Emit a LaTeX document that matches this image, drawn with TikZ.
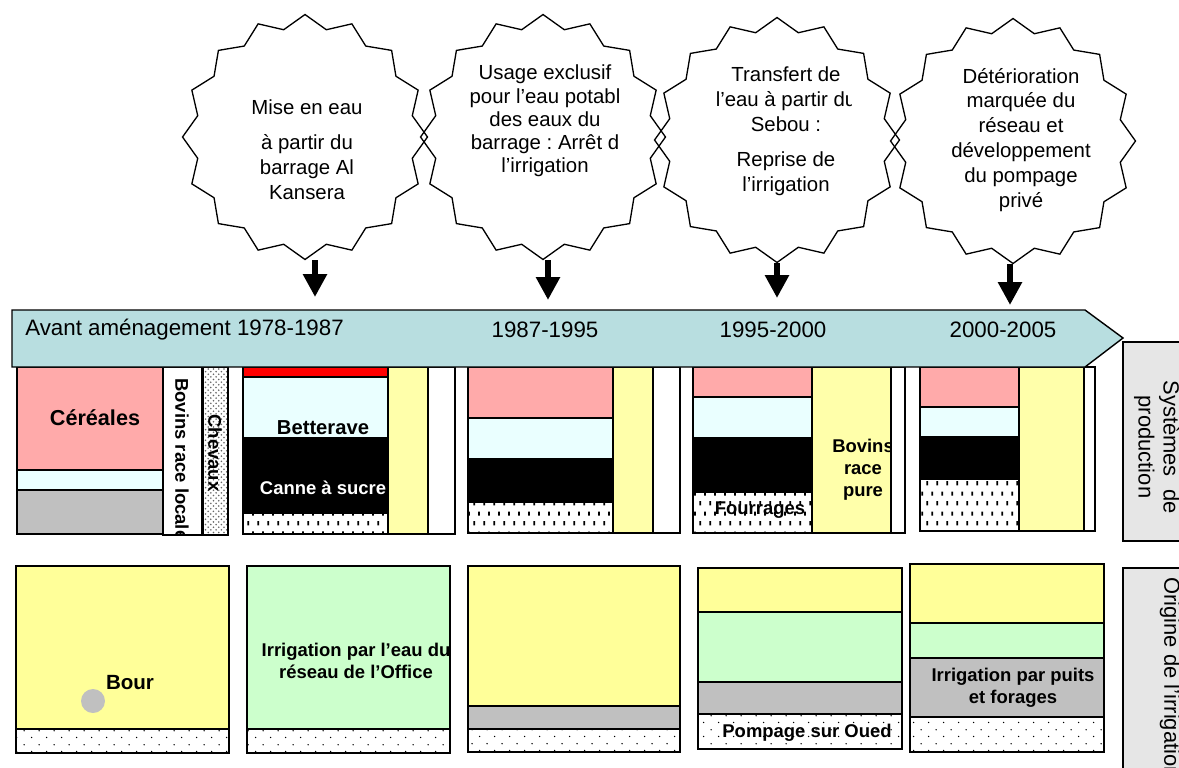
\documentclass[tikz,border=0pt]{standalone}
\usepackage{fontspec}
\setmainfont{Liberation Sans}
\usetikzlibrary{arrows.meta,shapes.geometric,patterns,positioning}
\frenchspacing

\definecolor{cereal}{RGB}{255,170,170}
\definecolor{beet}{RGB}{234,255,255}
\definecolor{fallow}{RGB}{192,192,192}
\definecolor{cattle}{RGB}{255,255,170}
\definecolor{rainfed}{RGB}{255,255,153}
\definecolor{network}{RGB}{204,255,204}
\definecolor{timeline}{RGB}{184,222,224}
\definecolor{legendgray}{RGB}{230,230,230}

\pgfdeclarepatternformonly{fodder}{\pgfpointorigin}{\pgfpoint{5.6pt}{11.4pt}}{\pgfpoint{5.6pt}{11.4pt}}{%
  \pgfpathrectangle{\pgfpoint{0.8pt}{1pt}}{\pgfpoint{1pt}{2.4pt}}%
  \pgfpathrectangle{\pgfpoint{3.6pt}{6.7pt}}{\pgfpoint{1pt}{2.4pt}}%
  \pgfusepath{fill}}
\pgfdeclarepatternformonly{sparsedots}{\pgfpointorigin}{\pgfpoint{8.5pt}{8pt}}{\pgfpoint{8.5pt}{8pt}}{%
  \pgfpathcircle{\pgfpoint{1.5pt}{1.5pt}}{0.45pt}%
  \pgfpathcircle{\pgfpoint{5.75pt}{5.5pt}}{0.45pt}%
  \pgfusepath{fill}}

\begin{document}
\begin{tikzpicture}[x=0.02cm, y=-0.02cm,
    box/.style={draw=black, line width=1pt},
    burst/.style={star, star points=16, star point ratio=1.12, minimum size=4.9cm, inner sep=0pt, draw=black, line width=0.75pt},
    bursttext/.style={align=center, inner sep=0pt, font=\fontsize{11.6}{14.2}\selectfont},
    period/.style={inner sep=0pt, font=\fontsize{12.7}{15}\selectfont},
    croplabel/.style={inner sep=0pt, align=center, font=\fontsize{10.5}{12.5}\selectfont\bfseries},
    sidelabel/.style={inner sep=0pt, align=center, rotate=-90, font=\fontsize{12.5}{14.2}\selectfont},
    blockarrow/.style={line width=0.13cm, -{Triangle[width=0.46cm,length=0.46cm]}},
    fodderfill/.style={preaction={fill=white}, pattern=fodder},
    soilfill/.style={preaction={fill=white}, pattern=sparsedots},
    horsefill/.style={preaction={fill=white}, pattern=crosshatch dots, pattern color=black!60},
  ]
  \useasboundingbox (0,0) rectangle (1179,767);
  \clip (0,0) rectangle (1179,767);

  % Events (explosion shapes)
  \node[burst] (s1) at (305,137) {};
  \node[burst] (s2) at (543,137) {};
  \node[burst] (s3) at (777,140) {};
  \node[burst] (s4) at (1013,141) {};
  \node[bursttext] (e1) at (307,150) {Mise en eau\\[5.7pt]à partir du\\barrage Al\\Kansera};
  \node[bursttext, font=\fontsize{11.6}{13.2}\selectfont] (e2) at (545,121) {Usage exclusif\\pour l’eau potabl\\des eaux du\\barrage : Arrêt d\\l’irrigation};
  \begin{scope}
    \clip (690,50) rectangle (851,210);
    \node[bursttext] (e3) at (786,131) {Transfert de\\l’eau à partir du\\Sebou :\\[5.7pt]Reprise de\\l’irrigation};
  \end{scope}
  \node[bursttext] (e4) at (1021,140) {Détérioration\\marquée du\\réseau et\\développement\\du pompage\\privé};

  % Arrows down to the time line
  \coordinate (a1) at (315,297);
  \coordinate (a2) at (548,300);
  \coordinate (a3) at (777,298);
  \coordinate (a4) at (1010,305);
  \draw[blockarrow] (s1.south -| a1) -- (a1);
  \draw[blockarrow] (s2.south -| a2) -- (a2);
  \draw[blockarrow] (s3.south -| a3) -- (a3);
  \draw[blockarrow] (s4.south -| a4) -- (a4);

  % Production systems: before development
  \draw[box, fill=cereal] (17,367) rectangle (163,470);
  \draw[box, fill=beet] (17,470) rectangle (163,490);
  \draw[box, fill=fallow] (17,490) rectangle (163,534);
  \draw[box, fill=white] (163,367) rectangle (202,535);
  \draw[box, horsefill] (203,367) rectangle (228,535);
  \node[croplabel, font=\fontsize{12.3}{14}\selectfont\bfseries] (c1) at (95,418) {Céréales};
  \begin{scope}
    \clip (163,367) rectangle (202,534);
    \node[croplabel, rotate=-90, anchor=west] (b1) at (182,378) {Bovins race locale};
  \end{scope}
  \node[croplabel, rotate=-90] (h1) at (215,453) {Chevaux};

  % Production systems: 1978-1987
  \draw[box, fill=red] (243,367) rectangle (388,377);
  \draw[box, fill=beet] (243,377) rectangle (388,438);
  \draw[box, fill=black] (243,438) rectangle (388,513);
  \draw[box, fodderfill] (243,513) rectangle (388,534);
  \draw[box, fill=cattle] (388,367) rectangle (428,534);
  \draw[box, fill=white] (428,367) rectangle (455,534);
  \node[croplabel, font=\fontsize{11.5}{13}\selectfont\bfseries] (c2) at (323,428) {Betterave};
  \node[croplabel, text=white] (c3) at (323,488) {Canne à sucre};

  % Production systems: 1987-1995
  \draw[box, fill=cereal] (468,367) rectangle (613,418);
  \draw[box, fill=beet] (468,418) rectangle (613,459);
  \draw[box, fill=black] (468,459) rectangle (613,502);
  \draw[box, fodderfill] (468,502) rectangle (613,533);
  \draw[box, fill=cattle] (613,367) rectangle (653,533);
  \draw[box, fill=white] (653,367) rectangle (680,533);

  % Production systems: 1995-2000
  \draw[box, fill=cereal] (693,367) rectangle (812,397);
  \draw[box, fill=beet] (693,397) rectangle (812,438);
  \draw[box, fill=black] (693,438) rectangle (812,492);
  \draw[box, fodderfill] (693,492) rectangle (812,533);
  \draw[box, fill=cattle] (812,367) rectangle (891,533);
  \draw[box, fill=white] (891,367) rectangle (905,533);
  \node[croplabel] (c4) at (760,510) {Fourrages};
  \begin{scope}
    \clip (812,367) rectangle (891,533);
    \node[croplabel] (b2) at (863,470) {Bovins\\race\\pure};
  \end{scope}

  % Production systems: 2000-2005
  \draw[box, fill=cereal] (920,367) rectangle (1019,407);
  \draw[box, fill=beet] (920,407) rectangle (1019,437);
  \draw[box, fill=black] (920,437) rectangle (1019,479);
  \draw[box, fodderfill] (920,479) rectangle (1019,531);
  \draw[box, fill=cattle] (1019,367) rectangle (1084,531);
  \draw[box, fill=white] (1084,367) rectangle (1095,531);

  % Time line
  \filldraw[fill=timeline, draw=black, line width=0.8pt] (12,310) -- (1085,310) -- (1123,338) -- (1085,367) -- (12,367) -- cycle;
  \node[period, anchor=west] (p0) at (25,330) {Avant aménagement 1978-1987};
  \node[period] (p1) at (545,330) {1987-1995};
  \node[period] (p2) at (773,330) {1995-2000};
  \node[period] (p3) at (1003,330) {2000-2005};

  % Origin of irrigation water
  \draw[box, fill=rainfed] (16,566) rectangle (229,729);
  \draw[box, soilfill] (16,729) rectangle (229,753);
  \fill[fallow] (93,701) circle (12);
  \node[croplabel, font=\fontsize{11.7}{13}\selectfont\bfseries] (o1) at (130,683) {Bour};

  \draw[box, fill=network] (247,566) rectangle (450,729);
  \draw[box, soilfill] (247,729) rectangle (450,753);
  \begin{scope}
    \clip (247,566) rectangle (450,729);
    \node[croplabel] (o2) at (356,661) {Irrigation par l’eau du\\réseau de l’Office};
  \end{scope}

  \draw[box, fill=rainfed] (468,566) rectangle (680,706);
  \draw[box, fill=fallow] (468,706) rectangle (680,729);
  \draw[box, soilfill] (468,729) rectangle (680,752);

  \draw[box, fill=rainfed] (698,568) rectangle (902,612);
  \draw[box, fill=network] (698,612) rectangle (902,682);
  \draw[box, fill=fallow] (698,682) rectangle (902,714);
  \draw[box, soilfill] (698,714) rectangle (902,749);
  \node[croplabel] (o3) at (807,733) {Pompage sur Oued};

  \draw[box, fill=rainfed] (910,564) rectangle (1104,623);
  \draw[box, fill=network] (910,623) rectangle (1104,658);
  \draw[box, fill=fallow] (910,658) rectangle (1104,717);
  \draw[box, soilfill] (910,717) rectangle (1104,752);
  \node[croplabel] (o4) at (1013,688) {Irrigation par puits\\et forages};

  % Row titles
  \draw[box, fill=legendgray] (1123,342) rectangle (1200,541);
  \draw[box, fill=legendgray] (1123,568) rectangle (1200,800);
  \node[sidelabel] (r1) at (1157,447) {Systèmes\ \ de\\production};
  \node[sidelabel, anchor=west] (r2) at (1170,577) {Origine de l’irrigation};
\end{tikzpicture}
\end{document}
